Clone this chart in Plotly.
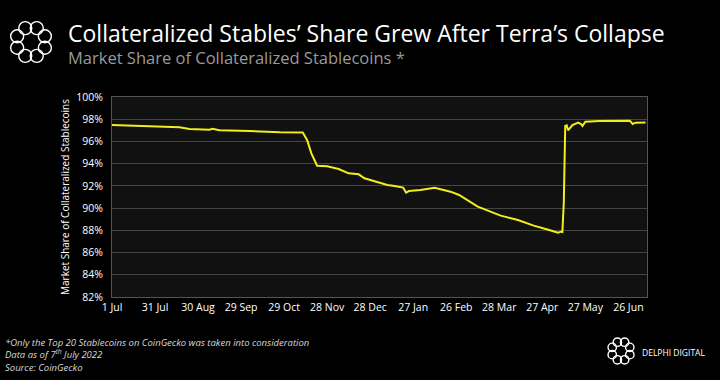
import plotly.graph_objects as go
import math

# ---- data ----
dates = [
    "2021-07-01", "2021-07-15", "2021-08-17", "2021-08-24", "2021-09-07", "2021-09-09",
    "2021-09-12", "2021-09-14", "2021-10-05", "2021-10-26", "2021-11-11", "2021-11-14",
    "2021-11-17", "2021-11-21", "2021-11-28", "2021-12-06", "2021-12-13", "2021-12-20",
    "2021-12-24", "2022-01-02", "2022-01-09", "2022-01-14", "2022-01-20", "2022-01-22",
    "2022-01-24", "2022-02-01", "2022-02-11", "2022-02-22", "2022-02-28", "2022-03-13",
    "2022-03-22", "2022-03-29", "2022-04-10", "2022-04-21", "2022-04-30", "2022-05-08",
    "2022-05-10", "2022-05-11", "2022-05-12", "2022-05-13", "2022-05-14", "2022-05-15",
    "2022-05-18", "2022-05-22", "2022-05-24", "2022-05-25", "2022-05-27", "2022-06-06",
    "2022-06-27", "2022-06-29", "2022-07-01", "2022-07-08",
]
share = [
    97.48, 97.42, 97.27, 97.12, 97.06, 97.14,
    97.05, 97.00, 96.94, 96.82, 96.80, 96.13,
    94.93, 93.82, 93.76, 93.52, 93.13, 93.04,
    92.68, 92.32, 92.08, 91.99, 91.85, 91.40,
    91.54, 91.63, 91.84, 91.48, 91.18, 90.13,
    89.68, 89.32, 88.93, 88.42, 88.09, 87.79,
    87.88, 87.85, 90.50, 97.40, 97.45, 97.00,
    97.48, 97.69, 97.57, 97.39, 97.78, 97.84,
    97.87, 97.57, 97.69, 97.70,
]
x_tick_vals = ["2021-07-01", "2021-07-31", "2021-08-30", "2021-09-29", "2021-10-29",
               "2021-11-28", "2021-12-28", "2022-01-27", "2022-02-26", "2022-03-28",
               "2022-04-27", "2022-05-27", "2022-06-26"]
x_tick_text = ["1 Jul", "31 Jul", "30 Aug", "29 Sep", "29 Oct", "28 Nov", "28 Dec",
               "27 Jan", "26 Feb", "28 Mar", "27 Apr", "27 May", "26 Jun"]
y_tick_vals = [82, 84, 86, 88, 90, 92, 94, 96, 98, 100]
y_tick_text = ["82%", "84%", "86%", "88%", "90%", "92%", "94%", "96%", "98%", "100%"]

title = "Collateralized Stables’ Share Grew After Terra’s Collapse"
subtitle = "Market Share of Collateralized Stablecoins *"
y_title = "Market Share of Collateralized Stablecoins"
foot_lines = [
    "*Only the Top 20 Stablecoins on CoinGecko was taken into consideration",
    "Data as of 7<sup>th</sup> July 2022",
    "Source: CoinGecko",
]

W, H = 720, 380
L, R, T, B = 112, 73, 97, 83
FONT = "Open Sans"

fig = go.Figure()
fig.add_trace(go.Scatter(x=dates, y=share, mode="lines",
                         line=dict(color="#f2ee1c", width=2), hoverinfo="skip"))

def px(xp):
    return (xp - L) / (W - L - R)

def py(yp):
    return (H - B - yp) / (H - T - B)

shapes = []
def logo(cx, cy, R0, r):
    for k in range(8):
        a = 2 * math.pi * k / 8 + math.pi / 8
        x0 = cx + R0 * math.cos(a)
        y0 = cy + R0 * math.sin(a)
        shapes.append(dict(type="circle", xref="paper", yref="paper",
                           x0=px(x0 - r), x1=px(x0 + r), y0=py(y0 + r), y1=py(y0 - r),
                           line=dict(color="white", width=1.4), layer="above"))

logo(31, 42, 15, 6.5)
logo(621, 351, 9.5, 4.2)

annotations = [
    dict(text=title, xref="paper", yref="paper", x=px(66), y=py(33),
         xanchor="left", yanchor="middle", showarrow=False,
         font=dict(size=23, color="white", family=FONT)),
    dict(text=subtitle, xref="paper", yref="paper", x=px(66), y=py(57),
         xanchor="left", yanchor="middle", showarrow=False,
         font=dict(size=16.5, color="#9a9a9a", family=FONT)),
    dict(text="DELPHI DIGITAL", xref="paper", yref="paper", x=px(640), y=py(352),
         xanchor="left", yanchor="middle", showarrow=False,
         font=dict(size=8.5, color="white", family=FONT)),
    dict(text="<i>" + "<br>".join(foot_lines) + "</i>", xref="paper", yref="paper",
         x=px(3), y=py(355), xanchor="left", yanchor="middle",
         showarrow=False, align="left",
         font=dict(size=9.5, color="#d8d8d8", family=FONT)),
]

fig.update_layout(
    width=W, height=H,
    margin=dict(l=L, r=R, t=T, b=B),
    paper_bgcolor="#000000",
    plot_bgcolor="#111111",
    showlegend=False,
    font=dict(family=FONT, color="white"),
    shapes=shapes,
    xaxis=dict(
        type="date", range=["2021-07-01", "2022-07-09"], automargin=False,
        tickvals=x_tick_vals, ticktext=x_tick_text,
        tickfont=dict(size=10.5, color="white"),
        showgrid=False, showline=True, linecolor="#555555", linewidth=1,
        mirror=True, ticks="", ticklen=0, zeroline=False,
    ),
    yaxis=dict(
        range=[82, 100], tickvals=y_tick_vals, ticktext=y_tick_text, automargin=False,
        tickfont=dict(size=10.5, color="white"), ticklabelstandoff=6,
        showgrid=True, gridcolor="#444444", gridwidth=1,
        showline=True, linecolor="#555555", linewidth=1, mirror=True,
        zeroline=False, ticks="",
        title=dict(text=y_title, font=dict(size=10, color="white"), standoff=4),
    ),
    annotations=annotations,
)

fig.write_html("out.html", config={"displayModeBar": False},
               post_script="document.body.style.margin='0';document.body.style.padding='0';")
